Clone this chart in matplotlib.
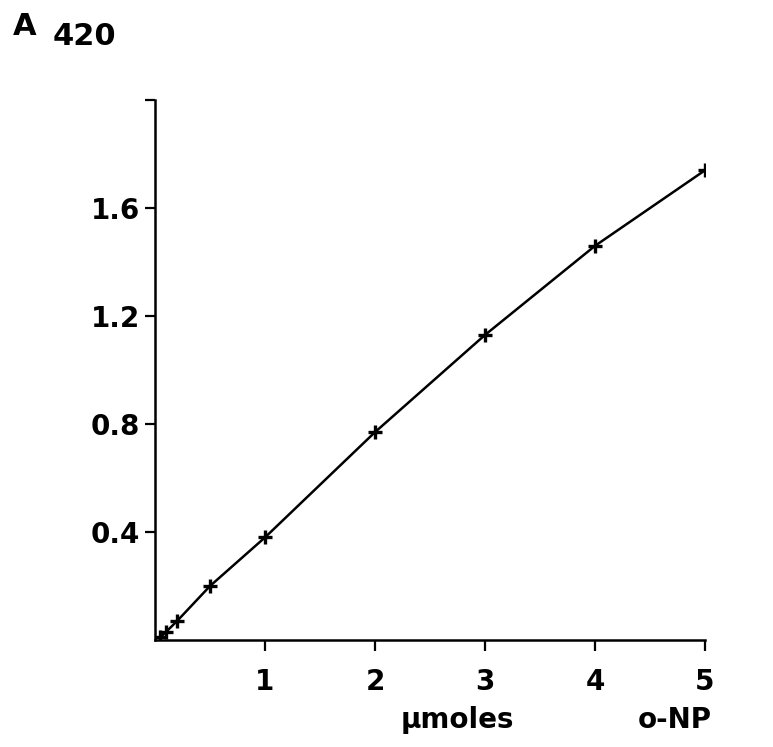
import numpy as np
import matplotlib
matplotlib.use('Agg')
import matplotlib.pyplot as plt

# o-NP standard curve (absorbance at 420 nm)
umoles = [0.05, 0.1, 0.2, 0.5, 1, 2, 3, 4, 5]
a420 = [0.01, 0.03, 0.07, 0.20, 0.38, 0.77, 1.13, 1.46, 1.74]

x_ticks = [1, 2, 3, 4, 5]
y_ticks = [0.4, 0.8, 1.2, 1.6, 2.0]
y_tick_labels = ['0.4', '0.8', '1.2', '1.6', '']

plt.rcParams['font.family'] = ['DejaVu Sans']
plt.rcParams['font.weight'] = 'bold'

fig = plt.figure(figsize=(7.73, 7.47), dpi=100)
ax = fig.add_axes([0.2005, 0.1432, 0.7115, 0.7228])

ax.plot(umoles, a420, color='black', lw=1.8,
        marker='+', markersize=10, markeredgewidth=2.4)

ax.set_xlim(0, 5)
ax.set_ylim(0, 2.0)
ax.set_xticks(x_ticks)
ax.set_xticklabels([str(t) for t in x_ticks])
ax.set_yticks(y_ticks)
ax.set_yticklabels(y_tick_labels)

for s in ('top', 'right'):
    ax.spines[s].set_visible(False)
for s in ('left', 'bottom'):
    ax.spines[s].set_linewidth(1.8)

ax.tick_params(axis='x', length=8, width=1.6, pad=12, labelsize=20)
ax.tick_params(axis='y', length=7, width=1.6, pad=4, labelsize=20)

fig.text(0.017, 0.953, 'A', fontsize=22, fontweight='bold', va='baseline')
fig.text(0.068, 0.940, '420', fontsize=22, fontweight='bold', va='baseline')
fig.text(0.518, 0.025, 'μmoles', fontsize=20, fontweight='bold', va='baseline')
fig.text(0.825, 0.025, 'o-NP', fontsize=20, fontweight='bold', va='baseline')

fig.savefig('out.png', dpi=100, facecolor='white')
